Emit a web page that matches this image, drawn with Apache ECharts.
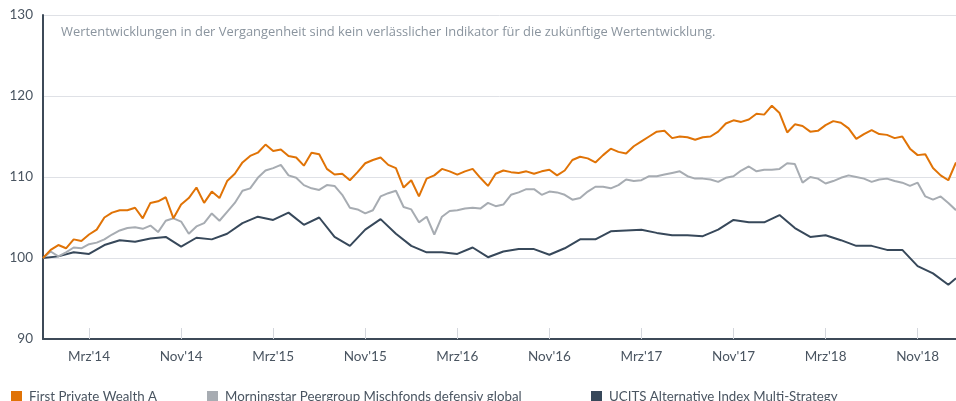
<!DOCTYPE html>
<html>
<head>
<meta charset="utf-8">
<script src="https://cdn.jsdelivr.net/npm/echarts@6/dist/echarts.min.js"></script>
<style>
html,body{margin:0;padding:0;background:#fff;}
#c{width:956px;height:401px;}
</style>
</head>
<body>
<div id="c"></div>
<script>
// Half-month grid, 120 points
const seriesNames = ["First Private Wealth A", "Morningstar Peergroup Mischfonds defensiv global", "UCITS Alternative Index Multi-Strategy"];
const tickLabels = ["Mrz'14","Nov'14","Mrz'15","Nov'15","Mrz'16","Nov'16","Mrz'17","Nov'17","Mrz'18","Nov'18"];
const firstTickIndex = 6;
const tickStep = 12;

const fund = [
100.0,101.0,101.6,101.2,102.3,102.1,102.9,103.5,105.0,105.6,
105.9,105.9,106.2,104.9,106.8,107.0,107.5,104.9,106.6,107.4,
108.7,106.8,108.2,107.4,109.5,110.4,111.8,112.6,113.0,114.0,
113.2,113.4,112.6,112.4,111.4,113.0,112.8,111.0,110.3,110.4,
109.6,110.6,111.7,112.1,112.4,111.5,111.1,108.7,109.6,107.6,
109.8,110.2,111.0,110.7,110.3,110.7,111.0,109.9,108.9,110.4,
110.8,110.6,110.5,110.7,110.4,110.7,110.9,110.2,110.8,112.1,
112.5,112.3,111.8,112.7,113.5,113.1,112.9,113.8,114.4,115.0,
115.6,115.7,114.8,115.0,114.9,114.6,114.9,115.0,115.6,116.6,
117.0,116.8,117.1,117.8,117.7,118.8,117.9,115.5,116.5,116.3,
115.6,115.7,116.4,116.9,116.7,116.0,114.7,115.3,115.8,115.3,
115.2,114.8,115.0,113.5,112.7,112.8,111.1,110.2,109.6,111.8
];

const peer = [
100.0,100.8,100.2,100.7,101.3,101.2,101.7,101.9,102.3,102.9,
103.4,103.7,103.8,103.6,104.0,103.2,104.6,104.9,104.5,103.0,
103.9,104.3,105.5,104.6,105.7,106.8,108.3,108.6,109.9,110.8,
111.1,111.5,110.2,109.9,109.0,108.6,108.4,109.0,108.9,107.8,
106.2,106.0,105.5,105.9,107.6,108.0,108.3,106.3,106.0,104.4,
105.1,102.9,105.1,105.8,105.9,106.1,106.2,106.1,106.8,106.4,
106.6,107.8,108.1,108.5,108.5,107.8,108.2,108.1,107.8,107.2,
107.4,108.2,108.8,108.8,108.6,109.0,109.7,109.5,109.6,110.1,
110.1,110.3,110.5,110.7,110.1,109.8,109.8,109.7,109.4,109.9,
110.1,110.8,111.3,110.7,110.9,110.9,111.0,111.7,111.6,109.3,
110.0,109.8,109.2,109.5,109.9,110.2,110.0,109.8,109.4,109.7,
109.8,109.5,109.3,108.9,109.3,107.6,107.2,107.6,106.8,105.9
];

// monthly values
const ucitsMonthly = [
100.0,100.2,100.7,100.5,101.6,102.2,102.0,102.4,102.6,101.4,
102.5,102.3,103.0,104.3,105.1,104.7,105.6,104.1,105.0,102.6,
101.5,103.5,104.8,103.0,101.5,100.7,100.7,100.5,101.3,100.1,
100.8,101.1,101.1,100.4,101.2,102.3,102.3,103.3,103.4,103.5,
103.1,102.8,102.8,102.7,103.5,104.7,104.4,104.4,105.3,103.7,
102.6,102.8,102.2,101.5,101.5,101.0,101.0,99.0,98.1,96.7
];
const ucitsLast = 97.5;

const yTicks = {min: 90, max: 130, interval: 10};

const categories = fund.map((_, i) => i);
const ucits = categories.map(i => (i % 2 === 0 && i / 2 < ucitsMonthly.length) ? ucitsMonthly[i / 2] : null);
ucits[ucits.length - 1] = ucitsLast;

const isTick = (i) => i >= firstTickIndex && (i - firstTickIndex) % tickStep === 0;

const colors = ['#e07306', '#a7acb2', '#37485a'];
const font = 'Lato, "Open Sans", sans-serif';

const chart = echarts.init(document.getElementById('c'), null, {renderer: 'canvas'});
chart.setOption({
  animation: false,
  color: colors,
  textStyle: {fontFamily: font},
  title: {
    text: 'Wertentwicklungen in der Vergangenheit sind kein verlässlicher Indikator für die zukünftige Wertentwicklung.',
    left: 56, top: 21,
    textStyle: {fontSize: 12.9, fontWeight: 'normal', color: '#8a949e', fontFamily: '"Open Sans", sans-serif'}
  },
  legend: [0, 1, 2].map((k, idx) => ({
    data: [seriesNames[k]],
    left: [6, 202, 586][idx],
    top: 385,
    icon: 'rect',
    itemWidth: 11,
    itemHeight: 11,
    itemGap: 8,
    selectedMode: false,
    textStyle: {fontSize: 13.3, color: '#4a5561', fontFamily: font, padding: [0, 0, 0, 2]}
  })),
  grid: {left: 43, right: 0, top: 15, bottom: 62, containLabel: false},
  xAxis: {
    type: 'category',
    data: categories,
    boundaryGap: false,
    axisLine: {show: true, lineStyle: {color: '#3d4a58', width: 2}},
    axisTick: {show: true, inside: true, length: 11, interval: (i) => isTick(i), lineStyle: {color: '#d4d7dd', width: 1}},
    axisLabel: {
      interval: (i) => isTick(i),
      formatter: (v, i) => isTick(i) ? tickLabels[(i - firstTickIndex) / tickStep] : '',
      color: '#4a5561', fontSize: 13.5, margin: 11, fontFamily: font
    },
    splitLine: {show: false}
  },
  yAxis: {
    type: 'value',
    min: yTicks.min, max: yTicks.max, interval: yTicks.interval,
    axisLine: {show: true, lineStyle: {color: '#3d4a58', width: 2}},
    axisTick: {show: false},
    axisLabel: {color: '#4a5561', fontSize: 13.5, margin: 10, fontFamily: font},
    splitLine: {show: true, lineStyle: {color: '#dfe1e6', width: 1}}
  },
  series: [
    {name: seriesNames[2], type: 'line', data: ucits, connectNulls: true, showSymbol: false, symbol: 'none', lineStyle: {width: 2, color: colors[2]}, itemStyle: {color: colors[2]}, z: 2},
    {name: seriesNames[1], type: 'line', data: peer, showSymbol: false, symbol: 'none', lineStyle: {width: 2, color: colors[1]}, itemStyle: {color: colors[1]}, z: 3},
    {name: seriesNames[0], type: 'line', data: fund, showSymbol: false, symbol: 'none', lineStyle: {width: 2, color: colors[0]}, itemStyle: {color: colors[0]}, z: 4}
  ]
});
</script>
</body>
</html>
